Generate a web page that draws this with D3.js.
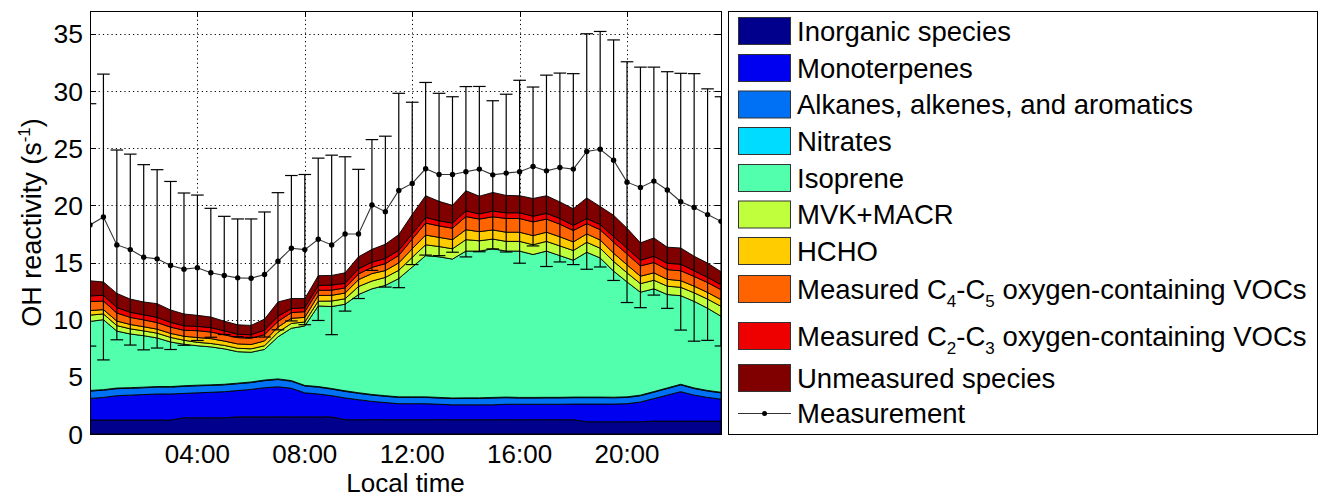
<!DOCTYPE html>
<html>
<head>
<meta charset="utf-8">
<script src="https://cdn.jsdelivr.net/npm/d3@7"></script>
<style>
  body { margin: 0; background: #fff; }
  svg { display: block; }
  text { font-family: "Liberation Sans", Arial, sans-serif; fill: #000; }
</style>
</head>
<body>
<svg id="chart" width="1320" height="496"></svg>
<script>
// half-hourly diurnal means (local time, hours)
const hours = [0,0.5,1,1.5,2,2.5,3,3.5,4,4.5,5,5.5,6,6.5,7,7.5,8,8.5,9,9.5,10,10.5,11,11.5,
               12,12.5,13,13.5,14,14.5,15,15.5,16,16.5,17,17.5,18,18.5,19,19.5,20,20.5,21,21.5,22,22.5,23,23.5];

// stacked contributions to OH reactivity (s-1), bottom to top
const inorganic = [1.22,1.22,1.22,1.22,1.22,1.22,1.22,1.42,1.42,1.42,1.42,1.5,1.5,1.5,1.5,1.5,1.5,1.5,1.5,1.25,1.25,1.25,1.25,1.25,
                   1.25,1.25,1.25,1.25,1.25,1.25,1.25,1.25,1.25,1.25,1.25,1.25,1.25,1.07,1.07,1.07,1.07,1.07,1.13,1.13,1.13,1.13,1.13,1.13];
const monoterpenes = [1.89,1.98,2.13,2.18,2.23,2.28,2.28,2.13,2.18,2.23,2.28,2.30,2.40,2.55,2.63,2.50,2.10,2.00,1.85,1.90,1.75,1.60,1.50,1.40,
                      1.40,1.40,1.35,1.30,1.30,1.30,1.30,1.35,1.35,1.35,1.35,1.35,1.37,1.55,1.55,1.55,1.58,1.73,1.97,2.27,2.57,2.27,2.07,1.92];
const alkanes = [.65,.63,.62,.6,.6,.6,.6,.62,.62,.6,.6,.6,.6,.62,.64,.62,.6,.6,.58,.58,.56,.56,.55,.55,
                 .55,.55,.55,.55,.56,.56,.6,.58,.55,.55,.56,.56,.56,.56,.56,.55,.55,.55,.56,.58,.6,.58,.56,.55];
const nitrates = [.05,.05,.05,.05,.05,.05,.05,.05,.05,.05,.05,.05,.05,.05,.05,.05,.05,.05,.05,.05,.05,.05,.05,.05,
                  .05,.05,.05,.05,.05,.05,.05,.05,.05,.05,.05,.05,.05,.05,.05,.05,.05,.05,.05,.05,.05,.05,.05,.05];
const isoprene = [6.04,6.12,4.98,4.70,4.50,4.25,3.90,3.63,3.45,3.32,3.10,2.75,2.60,2.68,3.68,4.58,5.20,7.05,7.17,7.57,8.59,9.24,9.65,10.35,
                  11.35,12.35,12.30,12.15,12.84,12.84,13.00,12.77,12.80,12.50,12.79,12.39,11.97,12.67,12.17,11.03,10.05,9.00,8.99,8.17,7.75,7.57,7.19,6.65];
const mvkMacr = [.55,.5,.48,.45,.42,.42,.4,.35,.3,.3,.3,.3,.3,.32,.4,.42,.35,.42,.48,.48,.7,.68,.7,.72,
                 .85,.95,.9,.9,1.0,.9,.85,.85,.85,.85,.85,.85,.85,.87,.85,.85,.8,.75,.75,.73,.73,.75,.8,.87];
const hcho = [.4,.38,.4,.38,.36,.35,.35,.35,.42,.42,.38,.38,.38,.42,.45,.45,.4,.5,.5,.5,.6,.65,.6,.65,
              .75,.85,.8,.8,.87,.8,.8,.8,.8,.8,.8,.8,.75,.73,.72,.72,.7,.65,.65,.6,.58,.58,.58,.58];
const ovocC4C5 = [.78,.75,.7,.62,.6,.58,.55,.52,.6,.58,.55,.55,.55,.55,.5,.5,.5,.45,.45,.45,.5,.55,.6,.65,
                  .85,1.05,1.0,1.0,1.15,1.1,1.15,1.2,1.2,1.2,1.15,1.1,1.0,.9,.9,.95,.95,.9,.9,.85,.87,.85,.87,.87];
const ovocC2C3 = [.5,.5,.48,.45,.45,.45,.42,.4,.38,.38,.35,.3,.3,.4,.45,.35,.35,.42,.45,.4,.45,.45,.45,.45,
                  .45,.5,.45,.45,.5,.45,.5,.5,.5,.5,.5,.5,.45,.45,.45,.5,.5,.5,.55,.55,.58,.5,.45,.44];
const unmeasured = [1.32,1.17,1.24,1.15,1.12,1.2,1.08,1.03,.96,.93,.84,.82,.82,.96,1.25,.88,.8,.86,.84,.92,1.05,1.12,1.25,1.38,
                    1.7,1.89,1.7,1.55,1.76,1.55,1.63,1.52,1.49,1.55,1.54,1.45,1.45,1.8,1.58,1.86,1.75,1.52,1.6,1.41,1.41,1.27,1.25,1.14];

// measured total OH reactivity and its standard deviation
const measured = [18.29,18.98,16.54,16.13,15.46,15.32,14.74,14.42,14.54,14.10,13.87,13.66,13.63,13.95,15.11,16.25,16.13,17.03,16.54,17.5,17.5,20.03,19.45,21.3,
                  21.92,23.2,22.7,22.7,22.94,23.17,22.67,22.82,22.94,23.4,23.02,23.31,23.17,24.71,24.91,23.95,22.03,21.57,22.12,21.34,20.32,19.82,19.19,18.6];
const measuredSd = [10.6,12.5,8.3,8.35,8.1,7.8,7.35,6.66,6.36,5.64,5.17,5.15,5.18,5.47,6.0,6.36,6.57,7.1,7.85,6.75,5.65,5.72,6.6,8.5,
                    7.1,7.55,7.1,6.8,7.45,7.23,6.48,6.9,8.0,6.95,8.37,8.26,8.35,10.3,10.3,10.52,10.53,10.52,9.97,10.35,11.23,11.7,11.0,10.9];

const seriesNames = ['Inorganic species','Monoterpenes','Alkanes, alkenes, and aromatics','Nitrates','Isoprene','MVK+MACR','HCHO',
                     'Measured C_4-C_5 oxygen-containing VOCs','Measured C_2-C_3 oxygen-containing VOCs','Unmeasured species'];
const seriesColors = ['#00008c','#0000f0','#0070f4','#00dcff','#52ffad','#bfff3c','#ffcc00','#ff6400','#ee0000','#800000'];
const xTicks = [4, 8, 12, 16, 20];
const yTicks = [0, 5, 10, 15, 20, 25, 30, 35];

const layers = [inorganic, monoterpenes, alkanes, nitrates, isoprene, mvkMacr, hcho, ovocC4C5, ovocC2C3, unmeasured];
const keys = seriesNames;
const table = hours.map((h, i) => {
  const row = { hour: h };
  keys.forEach((k, j) => { row[k] = layers[j][i]; });
  return row;
});

const L = 90, R = 721, T = 11, B = 434;
const svg = d3.select('#chart');
const x = d3.scaleLinear().domain([0, 23.5]).range([L, R]);
const y = d3.scaleLinear().domain([0, 37]).range([B, T]);

svg.append('defs').append('clipPath').attr('id', 'plotclip')
  .append('rect').attr('x', L).attr('y', T).attr('width', R - L).attr('height', B - T);

// grid (behind data)
const grid = svg.append('g').attr('stroke', '#000').attr('stroke-width', 1).attr('stroke-dasharray', '1.2,3.1');
grid.selectAll('.gy').data(yTicks.filter(v => v > 0)).join('line')
  .attr('x1', L).attr('x2', R).attr('y1', d => Math.round(y(d)) + 0.5).attr('y2', d => Math.round(y(d)) + 0.5);
grid.selectAll('.gx').data(xTicks).join('line')
  .attr('y1', T).attr('y2', B).attr('x1', d => Math.round(x(d)) + 0.5).attr('x2', d => Math.round(x(d)) + 0.5);

// inward ticks
const tk = svg.append('g').attr('stroke', '#000').attr('stroke-width', 1);
yTicks.forEach(v => {
  const yy = Math.round(y(v)) + 0.5;
  tk.append('line').attr('x1', L).attr('x2', L + 6).attr('y1', yy).attr('y2', yy);
  tk.append('line').attr('x1', R - 6).attr('x2', R).attr('y1', yy).attr('y2', yy);
});
xTicks.forEach(v => {
  const xx = Math.round(x(v)) + 0.5;
  tk.append('line').attr('x1', xx).attr('x2', xx).attr('y1', T).attr('y2', T + 6);
  tk.append('line').attr('x1', xx).attr('x2', xx).attr('y1', B - 6).attr('y2', B);
});

// stacked areas
const stack = d3.stack().keys(keys)(table);
const area = d3.area().x(d => x(d.data.hour)).y0(d => y(d[0])).y1(d => y(d[1]));
svg.append('g').attr('clip-path', 'url(#plotclip)')
  .selectAll('path').data(stack).join('path')
  .attr('d', area).attr('fill', (d, i) => seriesColors[i])
  .attr('stroke', '#000').attr('stroke-width', 0.9).attr('stroke-linejoin', 'round');

// error bars
const eb = svg.append('g').attr('clip-path', 'url(#plotclip)').attr('stroke', '#000').attr('stroke-width', 1.2);
hours.forEach((h, i) => {
  const xx = x(h), lo = y(measured[i] - measuredSd[i]), hi = y(measured[i] + measuredSd[i]);
  eb.append('line').attr('x1', xx).attr('x2', xx).attr('y1', lo).attr('y2', hi);
  eb.append('line').attr('x1', xx - 6.3).attr('x2', xx + 6.3).attr('y1', lo).attr('y2', lo);
  eb.append('line').attr('x1', xx - 6.3).attr('x2', xx + 6.3).attr('y1', hi).attr('y2', hi);
});

// measurement line + markers
const line = d3.line().x((d, i) => x(hours[i])).y(d => y(d));
const ml = svg.append('g').attr('clip-path', 'url(#plotclip)');
ml.append('path').attr('d', line(measured)).attr('fill', 'none').attr('stroke', '#333').attr('stroke-width', 1.1);
ml.selectAll('circle').data(measured).join('circle')
  .attr('cx', (d, i) => x(hours[i])).attr('cy', d => y(d)).attr('r', 2.7).attr('fill', '#000');

// box
svg.append('rect').attr('x', L + 0.5).attr('y', T + 0.5).attr('width', R - L).attr('height', B - T)
  .attr('fill', 'none').attr('stroke', '#000').attr('stroke-width', 1);

// tick labels
svg.append('g').selectAll('text').data(yTicks).join('text')
  .attr('x', 83).attr('y', d => y(d) + 9.5).attr('text-anchor', 'end').attr('font-size', 26.5).text(d => d);
svg.append('g').selectAll('text').data(xTicks).join('text')
  .attr('x', d => x(d)).attr('y', 462.5).attr('text-anchor', 'middle').attr('font-size', 26)
  .text(d => d3.format('02d')(d) + ':00');

// axis titles
svg.append('text').attr('x', (L + R) / 2).attr('y', 491.5).attr('text-anchor', 'middle').attr('font-size', 26).text('Local time');
const yl = svg.append('text').attr('transform', `translate(41,${(T + B) / 2}) rotate(-90)`)
  .attr('text-anchor', 'middle').attr('font-size', 27);
yl.append('tspan').text('OH reactivity (s');
yl.append('tspan').attr('dy', -11).attr('font-size', 17).text('-1');
yl.append('tspan').attr('dy', 11).text(')');

// legend
const lg = svg.append('g');
lg.append('rect').attr('x', 728.5).attr('y', 11.5).attr('width', 589).attr('height', 423)
  .attr('fill', '#fff').attr('stroke', '#000').attr('stroke-width', 1);
const rowY = [31, 68, 104.5, 141, 178, 214.5, 251, 289, 336, 378];
function addLabel(sel, label) {
  let shift = 0;
  label.split(/(_\d)/).forEach(part => {
    if (!part) return;
    if (part[0] === '_') {
      sel.append('tspan').attr('dy', 8 - shift).attr('font-size', 17).text(part.slice(1));
      shift = 8;
    } else {
      sel.append('tspan').attr('dy', -shift).text(part);
      shift = 0;
    }
  });
}
seriesNames.forEach((name, i) => {
  const cy = rowY[i];
  lg.append('rect').attr('x', 738.5).attr('y', cy - 13.5).attr('width', 52).attr('height', 27)
    .attr('fill', seriesColors[i]).attr('stroke', '#333').attr('stroke-width', 1);
  const t = lg.append('text').attr('x', 797).attr('y', cy + 9.8).attr('font-size', 27.5);
  addLabel(t, name);
});
const my = 413.5;
lg.append('line').attr('x1', 738).attr('x2', 791).attr('y1', my).attr('y2', my).attr('stroke', '#333').attr('stroke-width', 1.1);
lg.append('circle').attr('cx', 764.5).attr('cy', my).attr('r', 2.5).attr('fill', '#000');
lg.append('text').attr('x', 797).attr('y', my + 9.8).attr('font-size', 27.5).text('Measurement');
</script>
</body>
</html>
